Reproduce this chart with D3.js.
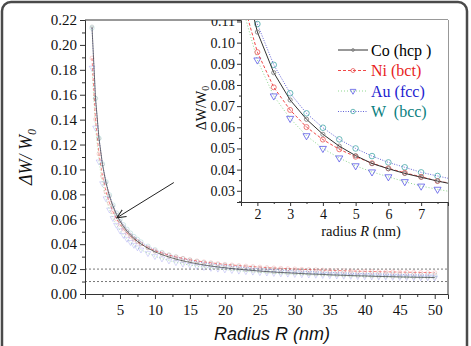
<!DOCTYPE html>
<html>
<head>
<meta charset="utf-8">
<script src="https://cdn.jsdelivr.net/npm/d3@7"></script>
<style>
  body { margin: 0; background: #fff; }
  svg { display: block; font-family: "Liberation Serif", "Times New Roman", serif; }
  svg text { font-family: "Liberation Serif", "Times New Roman", serif; }
  svg text.sans { font-family: "Liberation Sans", Arial, sans-serif; }
</style>
</head>
<body>
<svg id="chart" width="471" height="346"></svg>
<script>
"use strict";

// main plot: radius (nm) and dW/W0 for each crystal
var radius = [1, 1.5, 2, 2.5, 3, 3.5, 4, 4.5, 5, 5.5, 6, 6.5, 7, 7.5, 8,
  9, 10, 11, 12, 13, 14, 15, 16, 17, 18, 19, 20, 21, 22, 23, 24, 25, 26, 27, 28, 29, 30,
  31, 32, 33, 34, 35, 36, 37, 38, 39, 40, 41, 42, 43, 44, 45, 46, 47, 48, 49, 50];

var coMain = [0.2147, 0.1573, 0.1248, 0.1039, 0.0893, 0.0786, 0.0704, 0.0638, 0.0586, 0.0542, 0.0505, 0.0474, 0.0447, 0.0423, 0.0402,
  0.0367, 0.0339, 0.0316, 0.0297, 0.0280, 0.0266, 0.0254, 0.0243, 0.0233, 0.0225, 0.0217, 0.0211, 0.0204, 0.0199, 0.0193, 0.0189, 0.0184, 0.0180, 0.0176, 0.0173, 0.0170, 0.0167,
  0.0164, 0.0161, 0.0159, 0.0157, 0.0154, 0.0152, 0.0150, 0.0148, 0.0146, 0.0145, 0.0143, 0.0141, 0.0140, 0.0139, 0.0137, 0.0136, 0.0135, 0.0134, 0.0133, 0.0132];

var niMain = [0.1894, 0.1403, 0.1125, 0.0946, 0.0822, 0.0730, 0.0660, 0.0604, 0.0559, 0.0522, 0.0490, 0.0463, 0.0440, 0.0420, 0.0402,
  0.0372, 0.0348, 0.0329, 0.0312, 0.0298, 0.0286, 0.0275, 0.0266, 0.0258, 0.0251, 0.0244, 0.0238, 0.0233, 0.0228, 0.0224, 0.0220, 0.0216, 0.0212, 0.0209, 0.0206, 0.0203, 0.0201,
  0.0198, 0.0196, 0.0194, 0.0192, 0.0190, 0.0188, 0.0187, 0.0185, 0.0183, 0.0182, 0.0181, 0.0179, 0.0178, 0.0177, 0.0176, 0.0175, 0.0174, 0.0173, 0.0172, 0.0171];

var auMain = [0.1816, 0.1335, 0.1063, 0.0888, 0.0767, 0.0677, 0.0608, 0.0554, 0.0510, 0.0473, 0.0442, 0.0416, 0.0393, 0.0373, 0.0356,
  0.0327, 0.0303, 0.0284, 0.0268, 0.0254, 0.0242, 0.0232, 0.0223, 0.0215, 0.0208, 0.0202, 0.0196, 0.0191, 0.0186, 0.0182, 0.0178, 0.0174, 0.0171, 0.0167, 0.0164, 0.0162, 0.0159,
  0.0157, 0.0155, 0.0153, 0.0151, 0.0149, 0.0147, 0.0145, 0.0144, 0.0142, 0.0141, 0.0139, 0.0138, 0.0137, 0.0136, 0.0135, 0.0134, 0.0132, 0.0132, 0.0131, 0.0130];

var wMain = [0.2136, 0.1570, 0.1250, 0.1044, 0.0901, 0.0795, 0.0714, 0.0650, 0.0598, 0.0555, 0.0519, 0.0488, 0.0461, 0.0438, 0.0417,
  0.0383, 0.0355, 0.0333, 0.0313, 0.0297, 0.0283, 0.0271, 0.0260, 0.0251, 0.0243, 0.0235, 0.0229, 0.0222, 0.0217, 0.0212, 0.0207, 0.0203, 0.0199, 0.0195, 0.0192, 0.0188, 0.0185,
  0.0183, 0.0180, 0.0178, 0.0175, 0.0173, 0.0171, 0.0169, 0.0167, 0.0165, 0.0164, 0.0162, 0.0161, 0.0159, 0.0158, 0.0157, 0.0155, 0.0154, 0.0153, 0.0152, 0.0151];

// inset (zoom on small radii)
var insetRadius = [1.5, 2, 2.5, 3, 3.5, 4, 4.5, 5, 5.5, 6, 6.5, 7, 7.5, 8];
var coInset = [0.137, 0.105, 0.0858, 0.0729, 0.0638, 0.0567, 0.0511, 0.0466, 0.0429, 0.0404, 0.0382, 0.0364, 0.0346, 0.0330];
var niInset = [0.123, 0.0955, 0.0789, 0.0682, 0.0601, 0.0542, 0.0496, 0.0461, 0.0430, 0.0406, 0.0385, 0.0366, 0.0346, 0.0333];
var auInset = [0.119, 0.0918, 0.0748, 0.0642, 0.0560, 0.0500, 0.0455, 0.0418, 0.0389, 0.0366, 0.0343, 0.0322, 0.0307, 0.0293];
var wInset = [0.141, 0.1088, 0.0895, 0.0761, 0.0666, 0.0598, 0.0543, 0.0500, 0.0464, 0.0434, 0.0411, 0.0387, 0.0370, 0.0353];

var seriesNames = ["Co (hcp )", "Ni (bct)", "Au (fcc)", "W  (bcc)"];

var mainXTicks = [5, 10, 15, 20, 25, 30, 35, 40, 45, 50];
var mainYTicks = [0, 0.02, 0.04, 0.06, 0.08, 0.10, 0.12, 0.14, 0.16, 0.18, 0.20, 0.22];
var insetXTicks = [2, 3, 4, 5, 6, 7];
var insetYTicks = [0.03, 0.04, 0.05, 0.06, 0.07, 0.08, 0.09, 0.10, 0.11];
var refLines = [0.02, 0.01];

var SERIF = "Liberation Serif";

var series = [
  { name: seriesNames[0], main: coMain, inset: coInset, line: "#333", dash: null, mark: "circle", mk: "#777", r: 2.1, text: "#000" },
  { name: seriesNames[1], main: niMain, inset: niInset, line: "#f04848", dash: "3,2", mark: "circle", mk: "#e85a5a", r: 2.5, text: "#e81c1c" },
  { name: seriesNames[2], main: auMain, inset: auInset, line: "#8fd88f", dash: "1,2", mark: "tri", mk: "#5a5ae6", r: 2.6, text: "#1c1cd0" },
  { name: seriesNames[3], main: wMain, inset: wInset, line: "#6464d8", dash: "1,1.5", mark: "circle", mk: "#48a8a8", r: 2.8, text: "#0a8080" }
];

var svg = d3.select("#chart");

// outer rounded frame
svg.append("rect")
  .attr("x", 2).attr("y", 2).attr("width", 465).attr("height", 370).attr("rx", 9)
  .attr("fill", "none").attr("stroke", "#4a4a4a").attr("stroke-width", 2.5);

var x = d3.scaleLinear().domain([0, 51.9]).range([85, 448]);
var y = d3.scaleLinear().domain([0, 0.22]).range([294, 20]);

var xi = d3.scaleLinear().domain([1.5, 7.82]).range([241, 448]);
var yi = d3.scaleLinear().domain([0.0247, 0.1107]).range([202, 20]);

var defs = svg.append("defs");
defs.append("clipPath").attr("id", "clipMain").append("rect")
  .attr("x", 85).attr("y", 20).attr("width", 363).attr("height", 274);
defs.append("clipPath").attr("id", "clipInset").append("rect")
  .attr("x", 241).attr("y", 20).attr("width", 207).attr("height", 182);
defs.append("clipPath").attr("id", "clipTop").append("rect")
  .attr("x", -300).attr("y", 20).attr("width", 600).attr("height", 326);
defs.append("marker").attr("id", "arrow")
  .attr("viewBox", "0 0 10 10").attr("refX", 9).attr("refY", 5)
  .attr("markerWidth", 10).attr("markerHeight", 10).attr("orient", "auto")
  .attr("markerUnits", "userSpaceOnUse")
  .append("path").attr("d", "M0,1 L9,5 L0,9").attr("fill", "none").attr("stroke", "#222").attr("stroke-width", 1);

function drawMarkers(g, pts, s, sx, sy, opacity, scale) {
  var k = scale || 1;
  pts.forEach(function(p) {
    if (s.mark === "tri") {
      g.append("path")
        .attr("d", d3.symbol(d3.symbolTriangle, s.r * s.r * 3.2 * k * k)())
        .attr("transform", "translate(" + sx(p[0]) + "," + sy(p[1]) + ") rotate(180)")
        .attr("fill", "none").attr("stroke", s.mk).attr("stroke-width", 0.8).attr("opacity", opacity);
    } else {
      g.append("circle")
        .attr("cx", sx(p[0])).attr("cy", sy(p[1])).attr("r", s.r * k)
        .attr("fill", "none").attr("stroke", s.mk).attr("stroke-width", 0.8).attr("opacity", opacity);
    }
  });
}

// ---- main plot
var mainG = svg.append("g").attr("clip-path", "url(#clipMain)");

mainG.selectAll("line.ref").data(refLines).enter().append("line")
  .attr("x1", 85).attr("x2", 448)
  .attr("y1", function(d) { return y(d); }).attr("y2", function(d) { return y(d); })
  .attr("stroke", "#777").attr("stroke-width", 1).attr("stroke-dasharray", "2,2");

var lineMain = d3.line().x(function(d) { return x(d[0]); }).y(function(d) { return y(d[1]); });

series.slice().reverse().forEach(function(s) {
  var pts = radius.map(function(r, i) { return [r, s.main[i]]; });
  drawMarkers(mainG, pts, s, x, y, 0.3, 0.8);
  mainG.append("path").datum(pts).attr("d", lineMain)
    .attr("fill", "none").attr("stroke", s.line).attr("stroke-width", 0.9)
    .attr("stroke-dasharray", s.dash).attr("opacity", 0.75);
});

function styleAxis(g, size) {
  g.attr("font-family", SERIF).attr("font-size", size);
  g.selectAll("text").attr("font-family", SERIF).attr("font-size", size).attr("fill", "#111");
  g.selectAll("line").attr("stroke", "#333");
  g.select(".domain").attr("stroke", "#333");
}

var gy = svg.append("g").attr("transform", "translate(85,0)")
  .call(d3.axisLeft(y).tickValues(mainYTicks).tickSize(5).tickPadding(3).tickFormat(d3.format(".2f")));
styleAxis(gy, 15);
var gyMinor = svg.append("g").attr("transform", "translate(85,0)")
  .call(d3.axisLeft(y).tickValues(d3.range(0.01, 0.22, 0.02)).tickSize(3).tickFormat(""));
gyMinor.select(".domain").remove();
gyMinor.selectAll("line").attr("stroke", "#333");

var gx = svg.append("g").attr("transform", "translate(0,294)")
  .call(d3.axisBottom(x).tickValues(mainXTicks).tickSize(5).tickPadding(5).tickFormat(d3.format("d")));
styleAxis(gx, 15);
var gxMinor = svg.append("g").attr("transform", "translate(0,294)")
  .call(d3.axisBottom(x).tickValues(d3.range(2.5, 51, 5)).tickSize(3).tickFormat(""));
gxMinor.select(".domain").remove();
gxMinor.selectAll("line").attr("stroke", "#333");

// frame top / right
svg.append("path").attr("d", "M85,20 H448 V294").attr("fill", "none").attr("stroke", "#333").attr("stroke-width", 1);

// arrow annotation (data units)
svg.append("line")
  .attr("x1", x(12.7)).attr("y1", y(0.0895))
  .attr("x2", x(4.55)).attr("y2", y(0.0612))
  .attr("stroke", "#222").attr("stroke-width", 1).attr("marker-end", "url(#arrow)");

// axis titles
svg.append("text")
  .attr("transform", "translate(32,157) rotate(-90)")
  .attr("text-anchor", "middle")
  .attr("font-size", 18).style("font-style", "italic")
  .attr("fill", "#111")
  .text("\u0394W/ W")
  .append("tspan").attr("dy", 4).attr("font-size", 12).text("0");

svg.append("text").attr("class", "sans")
  .attr("x", 272).attr("y", 340).attr("text-anchor", "middle")
  .attr("font-size", 18).style("font-style", "italic")
  .attr("fill", "#111")
  .text("Radius R (nm)");

// ---- inset
svg.append("rect").attr("x", 241).attr("y", 20).attr("width", 207).attr("height", 182).attr("fill", "#fff");

var insetG = svg.append("g").attr("clip-path", "url(#clipInset)");
var lineInset = d3.line().x(function(d) { return xi(d[0]); }).y(function(d) { return yi(d[1]); });

series.slice().reverse().forEach(function(s) {
  var pts = insetRadius.map(function(r, i) { return [r, s.inset[i]]; });
  insetG.append("path").datum(pts).attr("d", lineInset)
    .attr("fill", "none").attr("stroke", s.line).attr("stroke-width", 1)
    .attr("stroke-dasharray", s.dash);
  drawMarkers(insetG, pts, s, xi, yi, 1);
});

var giy = svg.append("g").attr("transform", "translate(241,0)").attr("clip-path", "url(#clipTop)")
  .call(d3.axisLeft(yi).tickValues(insetYTicks).tickSize(4).tickPadding(2).tickFormat(d3.format(".2f")));
styleAxis(giy, 14);
var giyMinor = svg.append("g").attr("transform", "translate(241,0)")
  .call(d3.axisLeft(yi).tickValues(d3.range(0.025, 0.11, 0.01)).tickSize(2).tickFormat(""));
giyMinor.select(".domain").remove();
giyMinor.selectAll("line").attr("stroke", "#333");

var gix = svg.append("g").attr("transform", "translate(0,202)")
  .call(d3.axisBottom(xi).tickValues(insetXTicks).tickSize(4).tickPadding(3).tickFormat(d3.format("d")));
styleAxis(gix, 14);
var gixMinor = svg.append("g").attr("transform", "translate(0,202)")
  .call(d3.axisBottom(xi).tickValues(d3.range(2.5, 7.9, 1)).tickSize(2).tickFormat(""));
gixMinor.select(".domain").remove();
gixMinor.selectAll("line").attr("stroke", "#333");

svg.append("text")
  .attr("transform", "translate(206,108) rotate(-90)")
  .attr("text-anchor", "middle")
  .attr("font-size", 14).attr("fill", "#111")
  .text("\u0394W/W")
  .append("tspan").attr("dy", 3).attr("font-size", 10).text("0");

var il = svg.append("text")
  .attr("x", 361).attr("y", 236).attr("text-anchor", "middle")
  .attr("font-size", 14.5).attr("fill", "#111");
il.append("tspan").text("radius ");
il.append("tspan").style("font-style", "italic").text("R");
il.append("tspan").text(" (nm)");

// legend
var legend = svg.append("g");
series.forEach(function(s, i) {
  var ly = 50 + i * 20.5;
  legend.append("line").attr("x1", 338).attr("x2", 368).attr("y1", ly).attr("y2", ly)
    .attr("stroke", s.line).attr("stroke-width", 1).attr("stroke-dasharray", s.dash);
  var ms = Object.assign({}, s, { r: i === 0 ? 1.4 : s.r * 0.8 });
  drawMarkers(legend, [[353, ly]], ms, function(v) { return v; }, function(v) { return v; }, 1);
  legend.append("text").attr("x", 371).attr("y", ly + 5.5)
    .attr("font-size", 16).style("white-space", "pre").attr("fill", s.text)
    .text(s.name);
});
</script>
</body>
</html>
